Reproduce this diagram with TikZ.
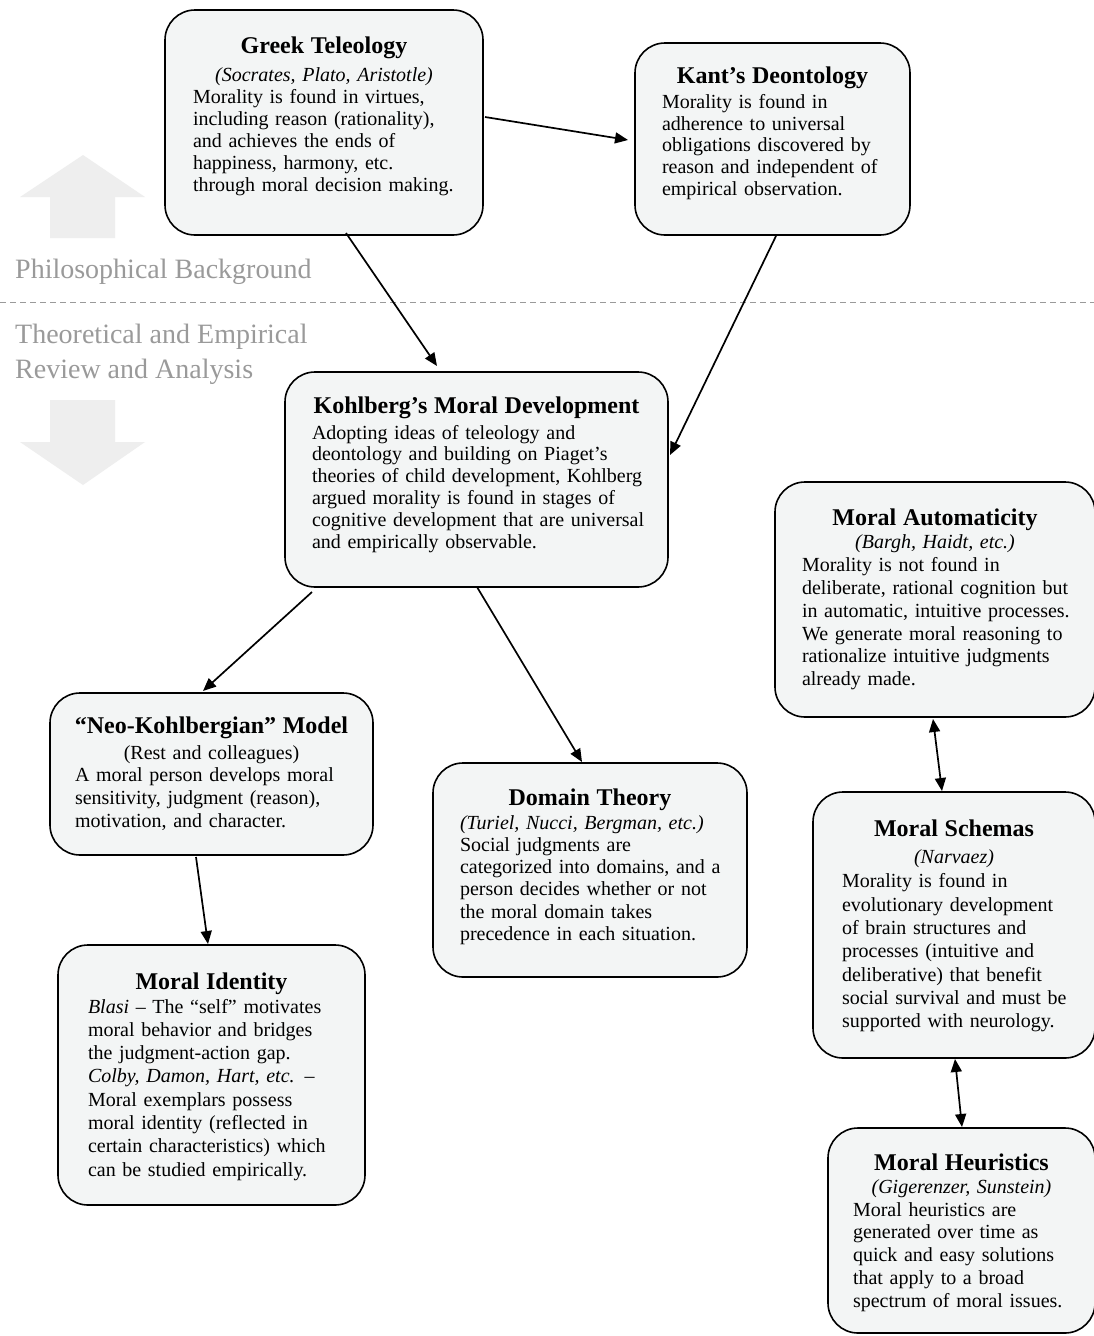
\documentclass[tikz,border=0pt]{standalone}
\usepackage{fontspec}
\setmainfont{Liberation Serif}
\usetikzlibrary{calc,arrows.meta}
\definecolor{boxfill}{HTML}{F3F5F5}
\definecolor{lblgray}{HTML}{9A9A9A}
\definecolor{biggray}{HTML}{EEEEEE}
\newcommand\ctitle[1]{{\noindent\fontsize{24}{26}\selectfont\bfseries\strut\makebox[\linewidth][c]{#1}\par}}
\newcommand\csub[1]{{\centering\itshape #1\par}}
\newcommand\bline[1]{\mbox{#1}\\}
\tikzset{
  card/.style={draw, line width=1.6pt, rounded corners=30pt, fill=boxfill, inner sep=0pt, outer sep=0pt},
  cardtext/.style 2 args={anchor=north west, inner sep=0pt, outer sep=0pt, text width=#1, align=left, font=\fontsize{20}{#2}\selectfont},
  conn/.style={line width=1.7pt, -{Triangle[length=13pt,width=11pt]}},
  biconn/.style={line width=1.7pt, {Triangle[length=13pt,width=11pt]}-{Triangle[length=13pt,width=11pt]}},
  sidelabel/.style={anchor=base west, inner sep=0pt, text=lblgray, font=\fontsize{28}{35}\selectfont},
}
\begin{document}
\begin{tikzpicture}[x=1pt,y=-1pt]
\useasboundingbox (0,0) rectangle (1094,1336);
\fill[white] (0,0) rectangle (1094,1336);

% background arrows and labels
\fill[biggray] (50,238) -- (50,197) -- (20,197) -- (83,155) -- (145,197) -- (115,197) -- (115,238) -- cycle;
\fill[biggray] (50,400) -- (50,442) -- (20,442) -- (83,485) -- (145,442) -- (115,442) -- (115,400) -- cycle;
\node[sidelabel] (philo) at (15,278) {Philosophical Background};
\node[sidelabel] (theo1) at (15,343) {Theoretical and Empirical};
\node[sidelabel] (theo2) at (15,378) {Review and Analysis};
\draw[lblgray, line width=1pt, dash pattern=on 6pt off 4pt] (0,302) -- (1094,302);

% boxes
\node[card, minimum width=318, minimum height=225] (greek) at (324,122.5) {};
\node[card, minimum width=275, minimum height=192] (kant) at (772.5,139) {};
\node[card, minimum width=383, minimum height=215] (kohl) at (476.5,479.5) {};
\node[card, minimum width=320, minimum height=235] (auto) at (935,599.5) {};
\node[card, minimum width=323, minimum height=162] (neo) at (211.5,774) {};
\node[card, minimum width=314, minimum height=214] (domain) at (590,870) {};
\node[card, minimum width=307, minimum height=260] (ident) at (211.5,1075) {};
\node[card, minimum width=282, minimum height=266] (schem) at (954,925) {};
\node[card, minimum width=267, minimum height=205] (heur) at (961.5,1230.5) {};

% texts
\node[cardtext={262pt}{22pt}] (greekT) at ($(greek.north west)+(28,24.8)$) {%
\ctitle{Greek Teleology}\vspace{6pt}%
\csub{(Socrates, Plato, Aristotle)}%
\bline{Morality is found in virtues,}%
\bline{including reason (rationality),}%
\bline{and achieves the ends of}%
\bline{happiness, harmony, etc.}%
through moral decision making.};

\node[cardtext={221pt}{21.8pt}] (kantT) at ($(kant.north west)+(27,22.3)$) {%
\ctitle{Kant’s Deontology}\vspace{2pt}%
\bline{Morality is found in}%
\bline{adherence to universal}%
\bline{obligations discovered by}%
\bline{reason and independent of}%
empirical observation.};

\node[cardtext={329pt}{21.8pt}] (kohlT) at ($(kohl.north west)+(27,23)$) {%
\ctitle{Kohlberg’s Moral Development}\vspace{3pt}%
\bline{Adopting ideas of teleology and}%
\bline{deontology and building on Piaget’s}%
\bline{theories of child development, Kohlberg}%
\bline{argued morality is found in stages of}%
\bline{cognitive development that are universal}%
and empirically observable.};

\node[cardtext={266pt}{22.8pt}] (autoT) at ($(auto.north west)+(27,25.3)$) {%
\ctitle{Moral Automaticity}\vspace{0.5pt}%
\csub{(Bargh, Haidt, etc.)}%
\bline{Morality is not found in}%
\bline{deliberate, rational cognition but}%
\bline{in automatic, intuitive processes.}%
\bline{We generate moral reasoning to}%
\bline{rationalize intuitive judgments}%
already made.};

\node[cardtext={273pt}{22.7pt}] (neoT) at ($(neo.north west)+(25,21.8)$) {%
\ctitle{“Neo-Kohlbergian” Model}\vspace{3.3pt}%
{\centering (Rest and colleagues)\par}%
\bline{A moral person develops moral}%
\bline{sensitivity, judgment (reason),}%
motivation, and character.};

\node[cardtext={260pt}{22.3pt}] (domainT) at ($(domain.north west)+(27,23.8)$) {%
\ctitle{Domain Theory}\vspace{1.7pt}%
\bline{\itshape (Turiel, Nucci, Bergman, etc.)}%
\bline{Social judgments are}%
\bline{categorized into domains, and a}%
\bline{person decides whether or not}%
\bline{the moral domain takes}%
precedence in each situation.};

\node[cardtext={247pt}{23.3pt}] (identT) at ($(ident.north west)+(30,25.8)$) {%
\ctitle{Moral Identity}\vspace{0.7pt}%
\bline{\textit{Blasi} – The “self” motivates}%
\bline{moral behavior and bridges}%
\bline{the judgment-action gap.}%
\bline{\textit{Colby, Damon, Hart, etc.} –}%
\bline{Moral exemplars possess}%
\bline{moral identity (reflected in}%
\bline{certain characteristics) which}%
can be studied empirically.};

\node[cardtext={224pt}{23.3pt}] (schemT) at ($(schem.north west)+(29,25.8)$) {%
\ctitle{Moral Schemas}\vspace{4pt}%
\csub{(Narvaez)}\vspace{1.2pt}%
\bline{Morality is found in}%
\bline{evolutionary development}%
\bline{of brain structures and}%
\bline{processes (intuitive and}%
\bline{deliberative) that benefit}%
\bline{social survival and must be}%
supported with neurology.};

\node[cardtext={217pt}{22.8pt}] (heurT) at ($(heur.north west)+(25,24.3)$) {%
\ctitle{Moral Heuristics}%
\csub{(Gigerenzer, Sunstein)}%
\bline{Moral heuristics are}%
\bline{generated over time as}%
\bline{quick and easy solutions}%
\bline{that apply to a broad}%
spectrum of moral issues.};

% connectors
\draw[conn] ($(greek.north west)+(320,107)$) -- ($(kant.north west)+(-7,97)$);
\draw[conn] ($(greek.north west)+(181,223)$) -- ($(kohl.north west)+(152,-6)$);
\draw[conn] ($(kant.north west)+(141,193)$) -- ($(kohl.north west)+(385,83)$);
\draw[conn] ($(kohl.north west)+(27,220)$) -- ($(neo.north west)+(153,-2)$);
\draw[conn] ($(kohl.north west)+(192,215)$) -- ($(domain.north west)+(149,-1)$);
\draw[conn] ($(neo.north west)+(146,164)$) -- ($(ident.north west)+(150,-1)$);
\draw[biconn] ($(auto.north west)+(158,237)$) -- ($(schem.north west)+(129,-1)$);
\draw[biconn] ($(schem.north west)+(142,267)$) -- ($(heur.north west)+(134,-1)$);
\end{tikzpicture}
\end{document}
